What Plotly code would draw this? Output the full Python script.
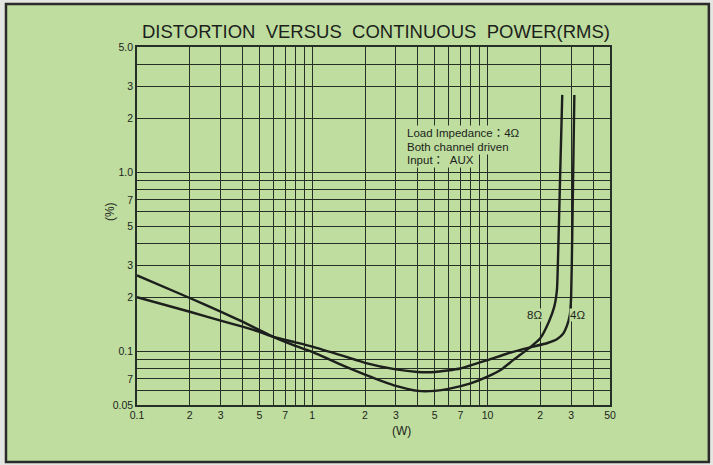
import plotly.graph_objects as go

# ---- data ----
power_8ohm = [0.1, 0.2, 0.3, 0.4, 0.5, 0.6, 0.8, 1.0, 1.5, 2.0, 3.0, 4.0, 5.0, 6.0, 8.0,
              10, 12, 14, 17.5, 20, 22.4, 24, 24.9, 25.3, 26.0, 26.7]
thd_8ohm = [0.265, 0.198, 0.166, 0.146, 0.131, 0.120, 0.107, 0.099, 0.083, 0.074, 0.064,
            0.060, 0.060, 0.0615, 0.066, 0.072, 0.079, 0.089, 0.105, 0.118, 0.146, 0.176,
            0.22, 0.35, 1.0, 2.7]

power_4ohm = [0.1, 0.2, 0.3, 0.4, 0.5, 0.6, 0.8, 1.0, 1.5, 2.0, 3.0, 4.0, 5.0, 7.0, 10,
              13, 17.5, 22, 25, 27, 28.5, 29.5, 30.0, 30.5, 31.3]
thd_4ohm = [0.200, 0.166, 0.148, 0.137, 0.128, 0.120, 0.112, 0.106, 0.094, 0.086, 0.079,
            0.0765, 0.0765, 0.080, 0.089, 0.097, 0.105, 0.111, 0.117, 0.125, 0.14,
            0.16, 0.2, 0.5, 2.7]

x_grid = [0.1, 0.2, 0.3, 0.4, 0.5, 0.6, 0.7, 0.8, 0.9, 1, 2, 3, 4, 5, 6, 7, 8, 9,
          10, 20, 30, 40, 50]
x_labels = ["0.1", "2", "3", "", "5", "", "7", "", "", "1", "2", "3", "", "5", "", "7", "", "",
            "10", "2", "3", "", "50"]
y_grid = [0.05, 0.06, 0.07, 0.08, 0.09, 0.1, 0.2, 0.3, 0.4, 0.5, 0.6, 0.7, 0.8, 0.9,
          1.0, 2, 3, 4, 5]
y_labels = ["0.05", "", "7", "", "", "0.1", "2", "3", "", "5", "", "7", "", "",
            "1.0", "2", "3", "", "5.0"]

GREEN = "#bedd9f"
INK = "#1c1f1c"
GRID = "#263026"
FONT = "Liberation Sans, Arial, Noto Sans CJK JP, sans-serif"

fig = go.Figure()
for xs, ys in [(power_8ohm, thd_8ohm), (power_4ohm, thd_4ohm)]:
    fig.add_trace(go.Scatter(x=xs, y=ys, mode="lines",
                             line=dict(color=INK, width=2.4, shape="spline", smoothing=0.5),
                             showlegend=False, hoverinfo="skip"))

axis_common = dict(type="log", showgrid=True, gridcolor=GRID, gridwidth=1.35,
                   showline=True, linecolor=GRID, linewidth=1.5, mirror=True,
                   ticks="", zeroline=False, tickfont=dict(family=FONT, size=10.5, color=INK))

fig.update_xaxes(range=[-1, 1.69897], tickvals=x_grid, ticktext=x_labels, **axis_common)
fig.update_yaxes(range=[-1.30103, 0.69897], tickvals=y_grid, ticktext=y_labels, **axis_common)

ann = []
ann.append(dict(text="DISTORTION  VERSUS  CONTINUOUS  POWER(RMS)", xref="paper", yref="paper",
                x=0.505, y=1.042, xanchor="center", yanchor="middle", showarrow=False,
                font=dict(family=FONT, size=18.5, color=INK)))
ann.append(dict(text="(%)", xref="paper", yref="paper", x=-0.057, y=0.539, textangle=-90,
                xanchor="center", yanchor="middle", showarrow=False,
                font=dict(family=FONT, size=12, color=INK)))
ann.append(dict(text="(W)", xref="paper", yref="paper", x=0.560, y=-0.073,
                xanchor="center", yanchor="middle", showarrow=False,
                font=dict(family=FONT, size=12, color=INK)))
for txt, yy in [("Load Impedance：4Ω", 0.760), ("Both channel driven", 0.7207),
                ("Input：  AUX", 0.684)]:
    ann.append(dict(text=txt, xref="paper", yref="paper", x=0.5666, y=yy,
                    xanchor="left", yanchor="middle", showarrow=False, bgcolor=GREEN,
                    borderpad=1, font=dict(family=FONT, size=11.5, color=INK)))
for txt, xx in [("8Ω", 0.8414), ("4Ω", 0.9323)]:
    ann.append(dict(text=txt, xref="paper", yref="paper", x=xx, y=0.2514,
                    xanchor="center", yanchor="middle", showarrow=False, bgcolor=GREEN,
                    borderpad=0, font=dict(family=FONT, size=11.5, color=INK)))

fig.update_layout(
    width=713, height=465,
    margin=dict(l=137, r=103, t=47, b=60),
    paper_bgcolor="#e3e6e1",
    plot_bgcolor="rgba(0,0,0,0)",
    annotations=ann,
    shapes=[dict(type="rect", xref="paper", yref="paper", layer="below",
                 x0=-0.277, x1=1.209, y0=-0.159, y1=1.12,
                 fillcolor=GREEN, line=dict(color="#2b2b2b", width=2.5))],
)

fig.write_html("out.html", config={"displayModeBar": False},
               post_script="document.body.style.margin='0';document.body.style.overflow='hidden';")
